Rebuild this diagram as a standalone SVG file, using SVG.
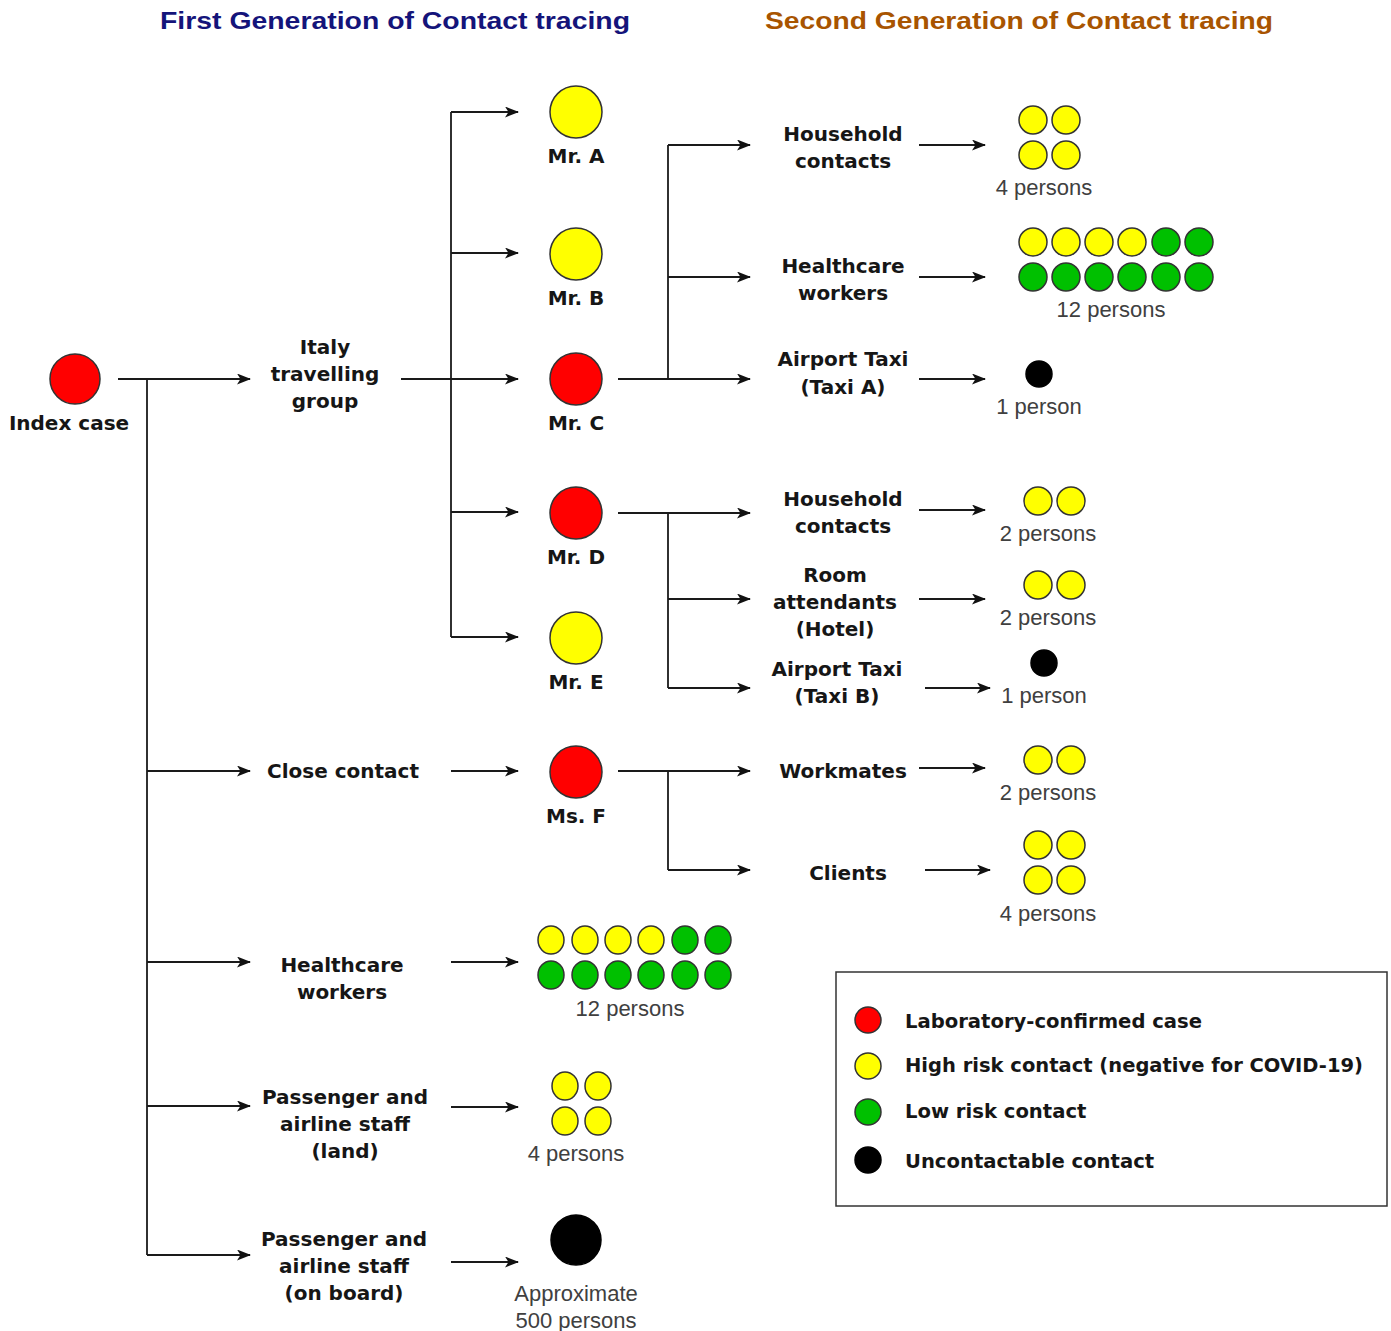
<svg xmlns="http://www.w3.org/2000/svg" width="1391" height="1331" viewBox="0 0 1391 1331">
<defs>
<marker id="arr" viewBox="0 0 14 11" refX="13" refY="5.5" markerWidth="14" markerHeight="11" markerUnits="userSpaceOnUse" orient="auto">
<path d="M0,0 L14,5.5 L0,11 L3.5,5.5 z" fill="#111"/>
</marker>
<style>
.t1{font-family:"Liberation Sans",Arial,sans-serif;font-weight:bold;font-size:24px}
.lb{font-family:"DejaVu Sans",Verdana,sans-serif;font-weight:bold;font-size:20px;fill:#161616;text-anchor:middle}
.lg{font-family:"DejaVu Sans",Verdana,sans-serif;font-weight:bold;font-size:19.6px;fill:#161616}
.gr{font-family:"Liberation Sans",Arial,sans-serif;font-size:22px;fill:#404040;text-anchor:middle}
.ln{stroke:#1a1a1a;stroke-width:1.8;fill:none}
.ar{stroke:#1a1a1a;stroke-width:1.8;fill:none;marker-end:url(#arr)}
.r{fill:#ff0000;stroke:#333;stroke-width:1.5}
.y{fill:#ffff00;stroke:#333;stroke-width:1.5}
.g{fill:#00c000;stroke:#333;stroke-width:1.5}
.k{fill:#000;stroke:#000;stroke-width:1.5}
</style>
</defs>
<rect width="1391" height="1331" fill="#fff"/>

<g id="titles">
<text class="t1" x="160" y="29" fill="#14147a" textLength="470" lengthAdjust="spacingAndGlyphs">First Generation of Contact tracing</text>
<text class="t1" x="765" y="29" fill="#a85400" textLength="508" lengthAdjust="spacingAndGlyphs">Second Generation of Contact tracing</text>
</g>

<g id="connectors">
<path class="ar" d="M118,379 H250"/>
<path class="ln" d="M147,379 V1255"/>
<path class="ar" d="M147,771 H250"/>
<path class="ar" d="M147,962 H250"/>
<path class="ar" d="M147,1106 H250"/>
<path class="ar" d="M147,1255 H250"/>
<path class="ar" d="M401,379 H518"/>
<path class="ln" d="M451,112 V637"/>
<path class="ar" d="M451,112 H518"/>
<path class="ar" d="M451,253 H518"/>
<path class="ar" d="M451,512 H518"/>
<path class="ar" d="M451,637 H518"/>
<path class="ar" d="M451,771 H518"/>
<path class="ar" d="M451,962 H518"/>
<path class="ar" d="M451,1107 H518"/>
<path class="ar" d="M451,1262 H518"/>
<path class="ar" d="M618,379 H750"/>
<path class="ln" d="M668,145 V379"/>
<path class="ar" d="M668,145 H750"/>
<path class="ar" d="M668,277 H750"/>
<path class="ar" d="M618,513 H750"/>
<path class="ln" d="M668,513 V688"/>
<path class="ar" d="M668,599 H750"/>
<path class="ar" d="M668,688 H750"/>
<path class="ar" d="M618,771 H750"/>
<path class="ln" d="M668,771 V870"/>
<path class="ar" d="M668,870 H750"/>
<path class="ar" d="M919,145 H985"/>
<path class="ar" d="M919,277 H985"/>
<path class="ar" d="M919,379 H985"/>
<path class="ar" d="M919,510 H985"/>
<path class="ar" d="M919,599 H985"/>
<path class="ar" d="M925,688 H990"/>
<path class="ar" d="M919,768 H985"/>
<path class="ar" d="M925,870 H990"/>
</g>

<g id="index-case">
<circle class="r" cx="75" cy="379" r="25"/>
<text class="lb" x="69" y="430">Index case</text>
</g>
<g id="italy-group">
<text class="lb" x="325" y="354">Italy</text>
<text class="lb" x="325" y="381">travelling</text>
<text class="lb" x="325" y="408">group</text>
</g>
<g id="mr-a"><circle class="y" cx="576" cy="112" r="26"/><text class="lb" x="576" y="163">Mr. A</text></g>
<g id="mr-b"><circle class="y" cx="576" cy="254" r="26"/><text class="lb" x="576" y="305">Mr. B</text></g>
<g id="mr-c"><circle class="r" cx="576" cy="379" r="26"/><text class="lb" x="576" y="430">Mr. C</text></g>
<g id="mr-d"><circle class="r" cx="576" cy="513" r="26"/><text class="lb" x="576" y="564">Mr. D</text></g>
<g id="mr-e"><circle class="y" cx="576" cy="638" r="26"/><text class="lb" x="576" y="689">Mr. E</text></g>
<g id="ms-f"><circle class="r" cx="576" cy="772" r="26"/><text class="lb" x="576" y="823">Ms. F</text></g>

<g id="c-household"><text class="lb" x="843" y="141">Household</text><text class="lb" x="843" y="168">contacts</text></g>
<g id="c-healthcare"><text class="lb" x="843" y="273">Healthcare</text><text class="lb" x="843" y="300">workers</text></g>
<g id="c-taxi-a"><text class="lb" x="843" y="366">Airport Taxi</text><text class="lb" x="843" y="394">(Taxi A)</text></g>
<g id="d-household"><text class="lb" x="843" y="506">Household</text><text class="lb" x="843" y="533">contacts</text></g>
<g id="d-room"><text class="lb" x="835" y="582">Room</text><text class="lb" x="835" y="609">attendants</text><text class="lb" x="835" y="636">(Hotel)</text></g>
<g id="d-taxi-b"><text class="lb" x="837" y="676">Airport Taxi</text><text class="lb" x="837" y="703">(Taxi B)</text></g>
<g id="f-workmates"><text class="lb" x="843" y="778">Workmates</text></g>
<g id="f-clients"><text class="lb" x="848" y="880">Clients</text></g>

<g id="close-contact"><text class="lb" x="343" y="778">Close contact</text></g>
<g id="healthcare-1"><text class="lb" x="342" y="972">Healthcare</text><text class="lb" x="342" y="999">workers</text></g>
<g id="passenger-land"><text class="lb" x="345" y="1104">Passenger and</text><text class="lb" x="345" y="1131">airline staff</text><text class="lb" x="345" y="1158">(land)</text></g>
<g id="passenger-board"><text class="lb" x="344" y="1246">Passenger and</text><text class="lb" x="344" y="1273">airline staff</text><text class="lb" x="344" y="1300">(on board)</text></g>

<g id="p-c-household">
<circle class="y" cx="1033" cy="120" r="14"/><circle class="y" cx="1066" cy="120" r="14"/>
<circle class="y" cx="1033" cy="155" r="14"/><circle class="y" cx="1066" cy="155" r="14"/>
<text class="gr" x="1044" y="195">4 persons</text>
</g>
<g id="p-c-healthcare">
<circle class="y" cx="1033" cy="242" r="14"/><circle class="y" cx="1066" cy="242" r="14"/><circle class="y" cx="1099" cy="242" r="14"/><circle class="y" cx="1132" cy="242" r="14"/><circle class="g" cx="1166" cy="242" r="14"/><circle class="g" cx="1199" cy="242" r="14"/>
<circle class="g" cx="1033" cy="277" r="14"/><circle class="g" cx="1066" cy="277" r="14"/><circle class="g" cx="1099" cy="277" r="14"/><circle class="g" cx="1132" cy="277" r="14"/><circle class="g" cx="1166" cy="277" r="14"/><circle class="g" cx="1199" cy="277" r="14"/>
<text class="gr" x="1111" y="317">12 persons</text>
</g>
<g id="p-c-taxi">
<circle class="k" cx="1039" cy="374" r="13"/>
<text class="gr" x="1039" y="414">1 person</text>
</g>
<g id="p-d-household">
<circle class="y" cx="1038" cy="501" r="14"/><circle class="y" cx="1071" cy="501" r="14"/>
<text class="gr" x="1048" y="541">2 persons</text>
</g>
<g id="p-d-room">
<circle class="y" cx="1038" cy="585" r="14"/><circle class="y" cx="1071" cy="585" r="14"/>
<text class="gr" x="1048" y="625">2 persons</text>
</g>
<g id="p-d-taxi">
<circle class="k" cx="1044" cy="663" r="13"/>
<text class="gr" x="1044" y="703">1 person</text>
</g>
<g id="p-f-workmates">
<circle class="y" cx="1038" cy="760" r="14"/><circle class="y" cx="1071" cy="760" r="14"/>
<text class="gr" x="1048" y="800">2 persons</text>
</g>
<g id="p-f-clients">
<circle class="y" cx="1038" cy="845" r="14"/><circle class="y" cx="1071" cy="845" r="14"/>
<circle class="y" cx="1038" cy="880" r="14"/><circle class="y" cx="1071" cy="880" r="14"/>
<text class="gr" x="1048" y="921">4 persons</text>
</g>
<g id="p-healthcare-1">
<ellipse class="y" cx="551" cy="940" rx="13" ry="14"/><ellipse class="y" cx="585" cy="940" rx="13" ry="14"/><ellipse class="y" cx="618" cy="940" rx="13" ry="14"/><ellipse class="y" cx="651" cy="940" rx="13" ry="14"/><ellipse class="g" cx="685" cy="940" rx="13" ry="14"/><ellipse class="g" cx="718" cy="940" rx="13" ry="14"/>
<ellipse class="g" cx="551" cy="975" rx="13" ry="14"/><ellipse class="g" cx="585" cy="975" rx="13" ry="14"/><ellipse class="g" cx="618" cy="975" rx="13" ry="14"/><ellipse class="g" cx="651" cy="975" rx="13" ry="14"/><ellipse class="g" cx="685" cy="975" rx="13" ry="14"/><ellipse class="g" cx="718" cy="975" rx="13" ry="14"/>
<text class="gr" x="630" y="1016">12 persons</text>
</g>
<g id="p-passenger-land">
<ellipse class="y" cx="565" cy="1086" rx="13" ry="14"/><ellipse class="y" cx="598" cy="1086" rx="13" ry="14"/>
<ellipse class="y" cx="565" cy="1121" rx="13" ry="14"/><ellipse class="y" cx="598" cy="1121" rx="13" ry="14"/>
<text class="gr" x="576" y="1161">4 persons</text>
</g>
<g id="p-passenger-board">
<ellipse class="k" cx="576" cy="1240" rx="25" ry="25"/>
<text class="gr" x="576" y="1301">Approximate</text>
<text class="gr" x="576" y="1328">500 persons</text>
</g>

<g id="legend">
<rect x="836" y="972" width="551" height="234" fill="#fff" stroke="#333" stroke-width="1.5"/>
<circle class="r" cx="868" cy="1020" r="13"/><text class="lg" x="905" y="1028">Laboratory-confirmed case</text>
<circle class="y" cx="868" cy="1066" r="13"/><text class="lg" x="905" y="1072" textLength="458" lengthAdjust="spacingAndGlyphs">High risk contact (negative for COVID-19)</text>
<circle class="g" cx="868" cy="1112" r="13"/><text class="lg" x="905" y="1118">Low risk contact</text>
<circle class="k" cx="868" cy="1160" r="13"/><text class="lg" x="905" y="1168">Uncontactable contact</text>
</g>
</svg>
